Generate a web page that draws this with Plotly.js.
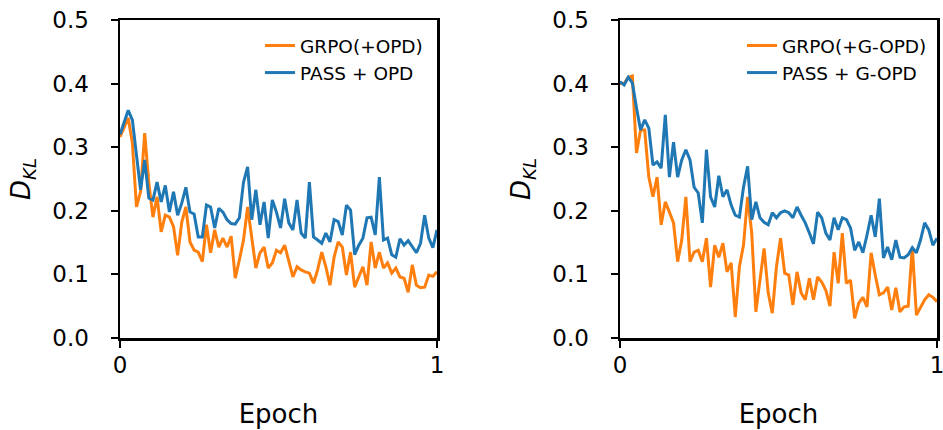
<!DOCTYPE html>
<html>
<head>
<meta charset="utf-8">
<script src="https://cdn.plot.ly/plotly-3.0.1.min.js"></script>
<style>html,body{margin:0;padding:0;background:#fff;}#chart{width:943px;height:430px;}</style>
</head>
<body>
<div id="chart"></div>
<script>
// Left panel: GRPO(+OPD) vs PASS + OPD
const leftGrpo = [0.316,0.33,0.346,0.307,0.206,0.23,0.322,0.244,0.19,0.222,0.167,0.193,0.19,0.175,0.13,0.182,0.206,0.151,0.138,0.135,0.12,0.178,0.134,0.17,0.143,0.157,0.143,
  0.16,0.094,0.123,0.154,0.206,0.159,0.11,0.134,0.143,0.11,0.118,0.138,0.134,0.146,0.123,0.096,0.112,0.107,0.104,0.102,0.086,0.107,0.135,0.112,0.083,
  0.127,0.151,0.143,0.099,0.135,0.08,0.096,0.112,0.083,0.151,0.11,0.135,0.11,0.118,0.102,0.11,0.096,0.094,0.072,0.115,0.083,0.079,0.08,0.099,0.097,0.104];
const leftPass = [0.32,0.338,0.358,0.343,0.285,0.233,0.28,0.22,0.217,0.245,0.214,0.24,0.198,0.23,0.193,0.212,0.237,0.198,0.195,0.159,0.159,0.209,0.206,0.173,0.204,0.198,0.186,
  0.18,0.179,0.189,0.245,0.269,0.186,0.233,0.178,0.214,0.157,0.217,0.198,0.173,0.219,0.181,0.17,0.217,0.165,0.157,0.245,0.159,0.154,0.149,0.165,0.151,
  0.186,0.183,0.162,0.209,0.201,0.131,0.146,0.157,0.189,0.19,0.162,0.253,0.154,0.157,0.131,0.127,0.156,0.146,0.153,0.143,0.134,0.149,0.193,0.157,0.142,0.17];
// Right panel: GRPO(+G-OPD) vs PASS + G-OPD
const rightGrpo = [0.40,0.40,0.41,0.412,0.291,0.327,0.327,0.253,0.222,0.253,0.178,0.214,0.198,0.181,0.12,0.154,0.222,0.12,0.135,0.138,0.12,0.157,0.08,0.146,0.127,0.149,0.104,
  0.118,0.033,0.112,0.146,0.222,0.165,0.041,0.091,0.141,0.071,0.039,0.112,0.157,0.102,0.099,0.052,0.104,0.071,0.06,0.094,0.06,0.096,0.088,0.075,0.05,
  0.135,0.086,0.165,0.086,0.091,0.031,0.055,0.064,0.049,0.134,0.099,0.068,0.071,0.08,0.044,0.079,0.041,0.049,0.05,0.143,0.036,0.047,0.06,0.068,0.064,0.057];
const rightPass = [0.403,0.398,0.41,0.401,0.362,0.327,0.343,0.33,0.272,0.277,0.267,0.351,0.253,0.308,0.253,0.28,0.296,0.28,0.237,0.228,0.181,0.296,0.222,0.206,0.255,0.222,0.233,
  0.209,0.193,0.19,0.237,0.27,0.186,0.214,0.189,0.182,0.178,0.197,0.189,0.197,0.2,0.197,0.189,0.206,0.193,0.181,0.165,0.148,0.198,0.189,0.165,0.154,
  0.189,0.17,0.189,0.186,0.173,0.138,0.151,0.134,0.162,0.193,0.159,0.219,0.126,0.143,0.123,0.154,0.127,0.126,0.131,0.142,0.134,0.154,0.181,0.17,0.146,0.157];

const names = ["GRPO(+OPD)", "PASS + OPD", "GRPO(+G-OPD)", "PASS + G-OPD"];
const xTickVals = [0, 1];
const xTickText = ["0", "1"];
const yTickVals = [0, 0.1, 0.2, 0.3, 0.4, 0.5];
const yTickText = ["0.0", "0.1", "0.2", "0.3", "0.4", "0.5"];

const ORANGE = "#ff7f0e", BLUE = "#1f77b4";
const epochs = n => Array.from({length: n}, (_, i) => i / (n - 1));

const traces = [
  {x: epochs(leftGrpo.length), y: leftGrpo, name: names[0], mode: "lines", line: {color: ORANGE, width: 3}, xaxis: "x", yaxis: "y", legend: "legend"},
  {x: epochs(leftPass.length), y: leftPass, name: names[1], mode: "lines", line: {color: BLUE, width: 3}, xaxis: "x", yaxis: "y", legend: "legend"},
  {x: epochs(rightGrpo.length), y: rightGrpo, name: names[2], mode: "lines", line: {color: ORANGE, width: 3}, xaxis: "x2", yaxis: "y2", legend: "legend2"},
  {x: epochs(rightPass.length), y: rightPass, name: names[3], mode: "lines", line: {color: BLUE, width: 3}, xaxis: "x2", yaxis: "y2", legend: "legend2"}
];

const W = 943, H = 430;
const FONT = "DejaVu Sans, sans-serif";
const xAxisBase = {
  range: [0, 1], tickvals: xTickVals, ticktext: xTickText,
  showgrid: false, zeroline: false, showline: true, linecolor: "#000", linewidth: 2.5, mirror: true,
  ticks: "outside", ticklen: 7, tickwidth: 2, tickcolor: "#000",
  tickfont: {family: FONT, size: 23, color: "#000"},
  ticklabeloverflow: "allow", ticklabelstandoff: -2,
  title: {text: "Epoch", font: {family: FONT, size: 26, color: "#000"}, standoff: 28},
  fixedrange: true
};
const yAxisBase = {
  range: [0, 0.5], tickvals: yTickVals, ticktext: yTickText,
  showgrid: false, zeroline: false, showline: true, linecolor: "#000", linewidth: 2.5, mirror: true,
  ticks: "outside", ticklen: 7, tickwidth: 2, tickcolor: "#000",
  tickfont: {family: FONT, size: 23, color: "#000"},
  ticklabelstandoff: 17,
  title: {text: "<i>D</i><sub><i>KL</i></sub>", font: {family: FONT, size: 26, color: "#000"}, standoff: 14},
  domain: [1 - 338 / H, 1 - 20 / H],
  fixedrange: true
};
const legendBase = {
  bgcolor: "rgba(0,0,0,0)", borderwidth: 0,
  font: {family: FONT, size: 18.5, color: "#000"},
  xanchor: "right", yanchor: "top", y: 1 - 27 / H
};

const layout = {
  width: W, height: H,
  margin: {l: 0, r: 0, t: 0, b: 0},
  paper_bgcolor: "#fff", plot_bgcolor: "#fff",
  showlegend: true,
  xaxis: Object.assign({}, xAxisBase, {domain: [120 / W, 437 / W], anchor: "y"}),
  yaxis: Object.assign({}, yAxisBase, {anchor: "x"}),
  xaxis2: Object.assign({}, xAxisBase, {domain: [620 / W, 937 / W], anchor: "y2"}),
  yaxis2: Object.assign({}, yAxisBase, {anchor: "x2"}),
  legend: Object.assign({}, legendBase, {x: 428 / W}),
  legend2: Object.assign({}, legendBase, {x: 932 / W})
};

Plotly.newPlot("chart", traces, layout, {displayModeBar: false, staticPlot: true});
</script>
</body>
</html>
